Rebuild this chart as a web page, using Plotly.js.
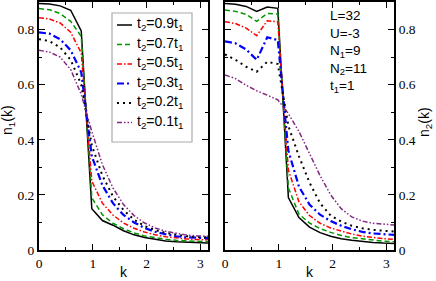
<!DOCTYPE html>
<html>
<head>
<meta charset="utf-8">
<script src="https://cdn.plot.ly/plotly-3.0.1.min.js"></script>
<style>html,body{margin:0;padding:0;background:#fff;}#chart{width:436px;height:281px;}</style>
</head>
<body>
<div id="chart"></div>
<script>
// momentum grid k = 2*pi*n/L, L=32
const k = [0, 0.19635, 0.3927, 0.58905, 0.7854, 0.98175, 1.1781, 1.37445, 1.5708, 1.76715, 1.9635, 2.15985, 2.3562, 2.55255, 2.7489, 2.94525, 3.14159];

const seriesNames = ["t<sub>2</sub>=0.9t<sub>1</sub>", "t<sub>2</sub>=0.7t<sub>1</sub>", "t<sub>2</sub>=0.5t<sub>1</sub>", "t<sub>2</sub>=0.3t<sub>1</sub>", "t<sub>2</sub>=0.2t<sub>1</sub>", "t<sub>2</sub>=0.1t<sub>1</sub>"];

// n1(k), left panel
const n1_t09 = [0.895,0.893,0.886,0.870,0.795,0.150,0.107,0.090,0.070,0.055,0.045,0.038,0.033,0.030,0.028,0.026,0.025];
const n1_t07 = [0.876,0.872,0.858,0.830,0.775,0.190,0.128,0.097,0.077,0.062,0.051,0.044,0.039,0.035,0.033,0.031,0.030];
const n1_t05 = [0.843,0.838,0.824,0.790,0.715,0.250,0.170,0.127,0.098,0.079,0.065,0.055,0.048,0.043,0.040,0.038,0.037];
const n1_t03 = [0.790,0.785,0.765,0.725,0.645,0.340,0.235,0.170,0.127,0.100,0.080,0.066,0.057,0.050,0.046,0.044,0.043];
const n1_t02 = [0.765,0.758,0.735,0.690,0.600,0.380,0.270,0.195,0.145,0.110,0.087,0.072,0.062,0.055,0.050,0.047,0.046];
const n1_t01 = [0.725,0.718,0.700,0.655,0.565,0.430,0.310,0.225,0.165,0.125,0.098,0.080,0.068,0.060,0.054,0.051,0.050];

// n2(k), right panel
const n2_t09 = [0.895,0.892,0.884,0.866,0.882,0.877,0.190,0.118,0.083,0.063,0.050,0.041,0.035,0.030,0.027,0.025,0.024];
const n2_t07 = [0.871,0.866,0.855,0.830,0.858,0.856,0.225,0.130,0.098,0.078,0.064,0.053,0.045,0.040,0.035,0.032,0.030];
const n2_t05 = [0.828,0.822,0.805,0.778,0.832,0.828,0.290,0.175,0.125,0.097,0.080,0.068,0.058,0.050,0.045,0.041,0.039];
const n2_t03 = [0.757,0.750,0.728,0.690,0.772,0.762,0.360,0.230,0.165,0.128,0.105,0.088,0.075,0.066,0.060,0.057,0.055];
const n2_t02 = [0.710,0.690,0.665,0.647,0.683,0.675,0.450,0.340,0.245,0.170,0.125,0.103,0.088,0.079,0.073,0.069,0.067];
const n2_t01 = [0.635,0.622,0.598,0.578,0.562,0.545,0.495,0.430,0.350,0.270,0.200,0.150,0.120,0.105,0.097,0.093,0.091];

const paramLines = ["L=32", "U=-3", "N<sub>1</sub>=9", "N<sub>2</sub>=11", "t<sub>1</sub>=1"];

const styles = [
  {color: "#000000", width: 1.5, dash: "solid"},
  {color: "rgb(0,150,0)", width: 1.5, dash: "5px,3px"},
  {color: "#ff0000", width: 1.5, dash: "5px,2px,1.5px,2px"},
  {color: "#0000ff", width: 2.2, dash: "7px,3px,2px,3px"},
  {color: "#000000", width: 2, dash: "2px,4px"},
  {color: "rgb(130,40,130)", width: 1.5, dash: "5px,2px,1.5px,2px,1.5px,2px"}
];

const leftSeries = [n1_t09, n1_t07, n1_t05, n1_t03, n1_t02, n1_t01];
const rightSeries = [n2_t09, n2_t07, n2_t05, n2_t03, n2_t02, n2_t01];

const W = 436, H = 281;
const px = v => v / W;
const py = v => 1 - v / H;

const traces = [];
leftSeries.forEach((s, i) => traces.push({x: k, y: s, xaxis: "x", yaxis: "y", mode: "lines", name: seriesNames[i], line: styles[i], showlegend: false}));
rightSeries.forEach((s, i) => traces.push({x: k, y: s, xaxis: "x2", yaxis: "y2", mode: "lines", name: seriesNames[i], line: styles[i], showlegend: false}));

const SERIF = "Liberation Serif";
const SANS = "Liberation Sans";
const tickFont = {family: SERIF, size: 13.5, color: "#000"};
const axBase = {
  showline: true, linewidth: 2, linecolor: "#000", mirror: "allticks",
  ticks: "inside", ticklen: 6, tickwidth: 1, tickcolor: "#000",
  showgrid: false, zeroline: false, tickfont: tickFont, fixedrange: true
};
const xAx = (dom, anchor) => Object.assign({}, axBase, {
  domain: dom, anchor: anchor, range: [0, 3.14159], tick0: 0, dtick: 1,
  minor: {ticks: "inside", ticklen: 3, tickwidth: 1, tickcolor: "#000", dtick: 0.5, tick0: 0, showgrid: false}
});
const yAx = (dom, anchor, side) => Object.assign({}, axBase, {
  domain: dom, anchor: anchor, side: side, range: [0, 0.9], tick0: 0, dtick: 0.2,
  minor: {ticks: "inside", ticklen: 3, tickwidth: 1, tickcolor: "#000", dtick: 0.1, tick0: 0, showgrid: false}
});

const yDom = [1 - 250 / H, 1 - 2 / H];

const shapes = [];
const annotations = [];

// legend box
shapes.push({type: "rect", xref: "paper", yref: "paper", x0: px(112), x1: px(192), y0: py(142), y1: py(13), line: {color: "#aaaaaa", width: 1.2}, fillcolor: "rgba(255,255,255,1)", layer: "above"});
const legY = [25, 44.5, 64, 83.5, 103, 122.5];
seriesNames.forEach((nm, i) => {
  shapes.push({type: "line", xref: "paper", yref: "paper", x0: px(117), x1: px(132), y0: py(legY[i]), y1: py(legY[i]), line: styles[i], layer: "above"});
  annotations.push({xref: "paper", yref: "paper", x: px(135), y: py(legY[i] - 1), xanchor: "left", yanchor: "middle", text: nm, showarrow: false, font: {family: SANS, size: 14, color: "#000"}});
});

// parameter text
annotations.push({xref: "paper", yref: "paper", x: px(328), y: py(6), xanchor: "left", yanchor: "top", align: "left", text: paramLines.join("<br>"), showarrow: false, font: {family: SANS, size: 13.5, color: "#000"}});

// axis titles
const titleFont = {family: SANS, size: 14, color: "#000"};
annotations.push({xref: "paper", yref: "paper", x: px(8), y: py(120), text: "n<sub>1</sub>(k)", textangle: -90, showarrow: false, font: titleFont, xanchor: "center", yanchor: "middle"});
annotations.push({xref: "paper", yref: "paper", x: px(425), y: py(122), text: "n<sub>2</sub>(k)", textangle: -90, showarrow: false, font: titleFont, xanchor: "center", yanchor: "middle"});
annotations.push({xref: "paper", yref: "paper", x: px(124), y: py(272), text: "k", showarrow: false, font: titleFont, xanchor: "center", yanchor: "middle"});
annotations.push({xref: "paper", yref: "paper", x: px(309.5), y: py(272), text: "k", showarrow: false, font: titleFont, xanchor: "center", yanchor: "middle"});

const layout = {
  width: W, height: H,
  margin: {l: 0, r: 0, t: 0, b: 0},
  paper_bgcolor: "#fff", plot_bgcolor: "#fff",
  showlegend: false,
  font: {family: SANS},
  xaxis: xAx([39 / W, 208 / W], "y"),
  yaxis: yAx(yDom, "x", "left"),
  xaxis2: xAx([225 / W, 394 / W], "y2"),
  yaxis2: yAx(yDom, "x2", "right"),
  shapes: shapes,
  annotations: annotations
};

Plotly.newPlot("chart", traces, layout, {staticPlot: true, displayModeBar: false});
</script>
</body>
</html>
